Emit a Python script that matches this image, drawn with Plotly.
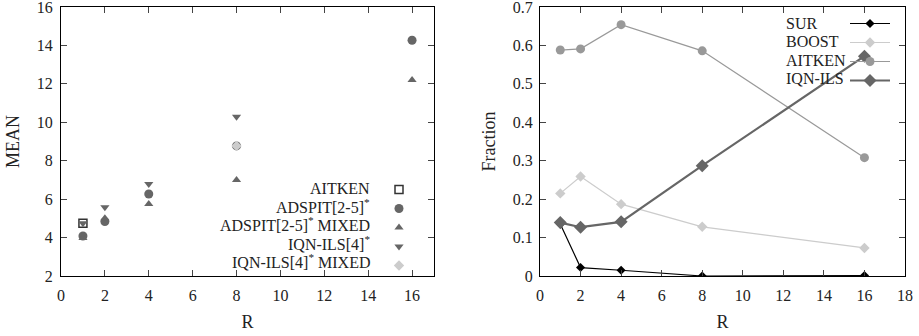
import plotly.graph_objects as go

# ---------- left panel data ----------
aitken_R = [1]
aitken_mean = [4.75]
adspit_R = [1, 2, 4, 8, 16]
adspit_mean = [4.08, 4.83, 6.27, 8.77, 14.27]
adspit_mixed_R = [1, 2, 4, 8, 16]
adspit_mixed_mean = [3.98, 5.0, 5.75, 7.0, 12.2]
iqn_R = [1, 2, 4, 8]
iqn_mean = [4.75, 5.58, 6.79, 10.29]
iqn_mixed_R = [8]
iqn_mixed_mean = [8.77]

# ---------- right panel data ----------
R = [1, 2, 4, 8, 16]
sur = [0.135, 0.022, 0.015, 0.0, 0.001]
boost = [0.215, 0.259, 0.187, 0.128, 0.073]
aitken_frac = [0.588, 0.591, 0.654, 0.586, 0.308]
iqn_frac = [0.139, 0.127, 0.141, 0.287, 0.572]

left_labels = ["AITKEN", "ADSPIT[2-5]<sup>*</sup>", "ADSPIT[2-5]<sup>*</sup> MIXED",
               "IQN-ILS[4]<sup>*</sup>", "IQN-ILS[4]<sup>*</sup> MIXED"]
right_labels = ["SUR", "BOOST", "AITKEN", "IQN-ILS"]

left_xticks = [0, 2, 4, 6, 8, 10, 12, 14, 16]
left_yticks = [2, 4, 6, 8, 10, 12, 14, 16]
right_xticks = [0, 2, 4, 6, 8, 10, 12, 14, 16, 18]
right_yticks = [0, 0.1, 0.2, 0.3, 0.4, 0.5, 0.6, 0.7]
right_yticktext = ["0", "0.1", "0.2", "0.3", "0.4", "0.5", "0.6", "0.7"]

FONT = "Liberation Serif"
TXT = "#222222"
W, H = 919, 336

fig = go.Figure()

# left panel traces
fig.add_trace(go.Scatter(x=aitken_R, y=aitken_mean, mode="markers", name="",
                         marker=dict(symbol="square-open", size=8, color="#333333",
                                     line=dict(width=1.5)),
                         xaxis="x", yaxis="y", legend="legend"))
fig.add_trace(go.Scatter(x=adspit_R, y=adspit_mean, mode="markers", name="",
                         marker=dict(symbol="circle", size=9, color="#666666"),
                         xaxis="x", yaxis="y", legend="legend"))
fig.add_trace(go.Scatter(x=adspit_mixed_R, y=adspit_mixed_mean, mode="markers", name="",
                         marker=dict(symbol="triangle-up", size=8, color="#666666"),
                         xaxis="x", yaxis="y", legend="legend"))
fig.add_trace(go.Scatter(x=iqn_R, y=iqn_mean, mode="markers", name="",
                         marker=dict(symbol="triangle-down", size=8, color="#666666"),
                         xaxis="x", yaxis="y", legend="legend"))
fig.add_trace(go.Scatter(x=iqn_mixed_R, y=iqn_mixed_mean, mode="markers", name="",
                         marker=dict(symbol="diamond", size=8, color="#cccccc"),
                         xaxis="x", yaxis="y", legend="legend"))

# right panel traces
fig.add_trace(go.Scatter(x=R, y=sur, mode="lines+markers", name="",
                         line=dict(color="#000000", width=1.2),
                         marker=dict(symbol="diamond", size=7, color="#000000"),
                         xaxis="x2", yaxis="y2", legend="legend2"))
fig.add_trace(go.Scatter(x=R, y=boost, mode="lines+markers", name="",
                         line=dict(color="#cccccc", width=1.2),
                         marker=dict(symbol="diamond", size=8, color="#cccccc"),
                         xaxis="x2", yaxis="y2", legend="legend2"))
fig.add_trace(go.Scatter(x=R, y=aitken_frac, mode="lines+markers", name="",
                         line=dict(color="#999999", width=1.2),
                         marker=dict(symbol="circle", size=9, color="#999999"),
                         xaxis="x2", yaxis="y2", legend="legend2"))
fig.add_trace(go.Scatter(x=R, y=iqn_frac, mode="lines+markers", name="",
                         line=dict(color="#666666", width=2.2),
                         marker=dict(symbol="diamond", size=10, color="#666666"),
                         xaxis="x2", yaxis="y2", legend="legend2"))

axis_common = dict(showline=True, linecolor="black", linewidth=1, mirror="ticks",
                   ticks="inside", ticklen=6, tickcolor="#444444", tickwidth=1,
                   showgrid=False, zeroline=False, ticklabeloverflow="allow",
                   automargin=False,
                   tickfont=dict(family=FONT, size=16, color=TXT),
                   title_font=dict(family=FONT, size=18, color=TXT))


def px_x(p):
    return p / W


def px_y(p):
    return 1 - p / H


fig.update_layout(
    width=W, height=H,
    margin=dict(l=0, r=0, t=0, b=0),
    paper_bgcolor="white", plot_bgcolor="white",
    font=dict(family=FONT, size=16, color=TXT),
    xaxis=dict(domain=[px_x(61), px_x(434)], range=[0, 17], tickvals=left_xticks,
               ticklabelstandoff=5,
               title=dict(text="R", standoff=12), anchor="y", **axis_common),
    yaxis=dict(domain=[px_y(276), px_y(7)], range=[2, 16.0001], tickvals=left_yticks,
               ticklabelstandoff=4,
               title=dict(text="MEAN", standoff=12), anchor="x", **axis_common),
    xaxis2=dict(domain=[px_x(540), px_x(905)], range=[0, 18], tickvals=right_xticks,
                ticklabelstandoff=5,
                title=dict(text="R", standoff=12), anchor="y2", **axis_common),
    yaxis2=dict(domain=[px_y(276), px_y(7)], range=[0, 0.70001], tickvals=right_yticks,
                ticktext=right_yticktext, ticklabelstandoff=3,
                title=dict(text="Fraction", standoff=12), anchor="x2", **axis_common),
    legend=dict(x=px_x(379), y=px_y(175), xanchor="left", yanchor="top",
                bgcolor="rgba(0,0,0,0)", font=dict(family=FONT, size=10),
                itemclick=False, tracegroupgap=0),
    legend2=dict(x=px_x(845), y=px_y(9), xanchor="left", yanchor="top",
                 bgcolor="rgba(0,0,0,0)", font=dict(family=FONT, size=10),
                 itemclick=False, tracegroupgap=0, itemwidth=40),
    showlegend=True,
)

# legend text labels (gnuplot style: text to the left of the key sample)
left_rows = [188, 206, 224, 242.5, 260.5]
for lab, yy in zip(left_labels, left_rows):
    fig.add_annotation(text=lab, xref="paper", yref="paper", x=px_x(372), y=px_y(yy),
                       xanchor="right", yanchor="middle", showarrow=False,
                       font=dict(family=FONT, size=16, color=TXT))
right_rows = [23.3, 41.7, 60, 78.7]
for lab, yy in zip(right_labels, right_rows):
    fig.add_annotation(text=lab, xref="paper", yref="paper", x=px_x(784), y=px_y(yy),
                       xanchor="left", yanchor="middle", showarrow=False,
                       font=dict(family=FONT, size=16, color=TXT))

fig.write_html("out.html")
